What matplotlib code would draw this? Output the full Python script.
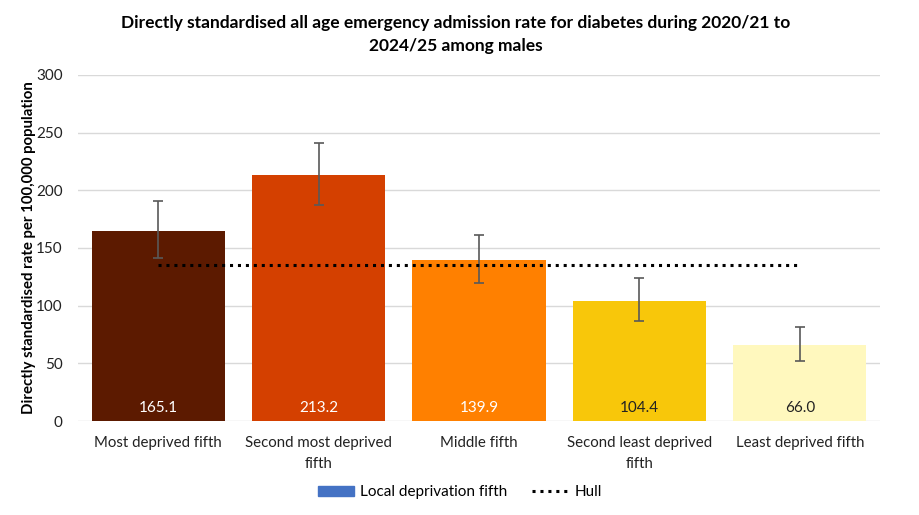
import matplotlib.pyplot as plt
from matplotlib.lines import Line2D
from matplotlib.patches import Patch

categories = ["Most deprived fifth", "Second most deprived\nfifth", "Middle fifth",
              "Second least deprived\nfifth", "Least deprived fifth"]
rates = [165.1, 213.2, 139.9, 104.4, 66.0]
lower = [141.3, 187.3, 119.6, 86.9, 52.0]
upper = [190.8, 241.0, 161.2, 124.0, 81.6]
hull = [135.3, 135.3, 135.3, 135.3, 135.3]
colours = ["#5C1A00", "#D44000", "#FF8000", "#F8C70A", "#FFF8BE"]
label_colours = ["white", "white", "white", "#222222", "#222222"]

plt.rcParams['font.family'] = ['Lato', 'DejaVu Sans']

fig = plt.figure(figsize=(9.2, 5.15), dpi=100)
ax = fig.add_axes([0.0848, 0.1825, 0.8717, 0.6719])

x = list(range(len(categories)))
ax.bar(x, rates, width=0.83, color=colours, zorder=2)
err = [[r - l for r, l in zip(rates, lower)], [u - r for r, u in zip(rates, upper)]]
ax.errorbar(x, rates, yerr=err, fmt='none', ecolor='#595959', elinewidth=1.2,
            capsize=3.5, capthick=1.2, zorder=3)
ax.plot(x, hull, color='black', linestyle=(0, (1, 1.6)), linewidth=2.2, zorder=4)

for xi, r, c in zip(x, rates, label_colours):
    ax.text(xi, 11, f"{r:.1f}", ha='center', va='center', color=c, fontsize=11)

ax.set_xlim(-0.5, 4.5)
ax.set_ylim(0, 300)
ax.set_yticks(range(0, 301, 50))
ax.set_xticks(x)
ax.set_xticklabels(categories, fontsize=10.8, color='#222222', linespacing=1.6)
ax.tick_params(axis='y', labelsize=11, colors='#222222', length=0, pad=11)
ax.tick_params(axis='x', length=0, pad=11)
ax.yaxis.grid(True, color='#D9D9D9', linewidth=1)
ax.set_axisbelow(True)
for s in ax.spines.values():
    s.set_visible(False)

ax.set_ylabel("Directly standardised rate per 100,000 population", fontsize=10.8,
              fontweight='bold', color='black')
ax.yaxis.set_label_coords(-0.052, 0.5)
fig.suptitle("Directly standardised all age emergency admission rate for diabetes during 2020/21 to\n2024/25 among males",
             x=0.495, y=0.97, fontsize=12.5, fontweight='bold', linespacing=1.5)

handles = [Patch(facecolor='#4472C4', edgecolor='#4472C4'),
           Line2D([0], [0], color='black', linestyle=(0, (1, 1.6)), linewidth=2.2)]
fig.legend(handles, ["Local deprivation fifth", "Hull"], loc='center', ncol=2,
           bbox_to_anchor=(0.5, 0.044), frameon=False, fontsize=11,
           handlelength=2.4, handleheight=0.6, handletextpad=0.4, columnspacing=1.6)

fig.savefig("out.png")
